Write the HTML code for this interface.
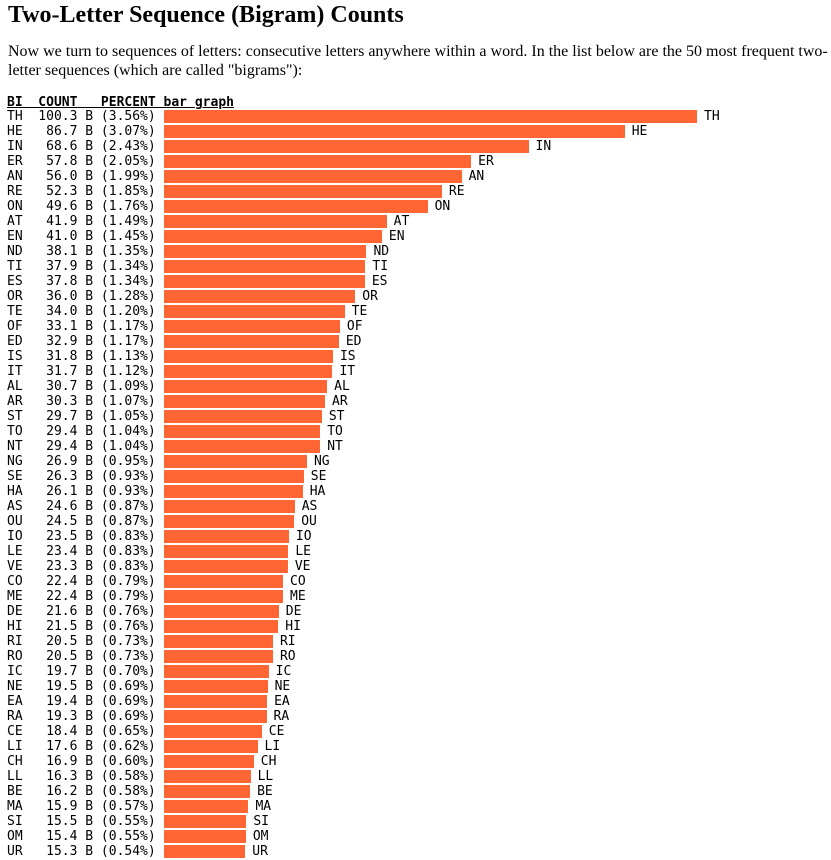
<!DOCTYPE html>
<html><head><meta charset="utf-8"><style>
body{margin:0;width:831px;height:860px;overflow:hidden;background:#fff;position:relative;font-family:"Liberation Serif",serif;color:#000}
h1{position:absolute;left:8px;top:2px;margin:0;font-size:24px;font-weight:bold;white-space:nowrap}
p{position:absolute;left:8px;top:42px;margin:0;width:820px;font-size:16px;line-height:19px}
.mono{font-family:"DejaVu Sans Mono","Liberation Mono",monospace;font-size:13px;white-space:pre;position:absolute;line-height:15px}
.bar{position:absolute;height:13px;background:#ff6633}
</style></head><body>
<h1>Two-Letter Sequence (Bigram) Counts</h1>
<p>Now we turn to sequences of letters: consecutive letters anywhere within a word. In the list below are the 50 most frequent two-letter sequences (which are called "bigrams"):</p>
<div class="mono" style="left:7px;top:95px;font-weight:bold;text-decoration:underline">BI  COUNT   PERCENT bar graph</div>
<div id="chart"></div>
<script>
const bigrams=["TH","HE","IN","ER","AN","RE","ON","AT","EN","ND","TI","ES","OR","TE","OF","ED","IS","IT","AL","AR","ST","TO","NT","NG","SE","HA","AS","OU","IO","LE","VE","CO","ME","DE","HI","RI","RO","IC","NE","EA","RA","CE","LI","CH","LL","BE","MA","SI","OM","UR"];
const counts=[100.3,86.7,68.6,57.8,56.0,52.3,49.6,41.9,41.0,38.1,37.9,37.8,36.0,34.0,33.1,32.9,31.8,31.7,30.7,30.3,29.7,29.4,29.4,26.9,26.3,26.1,24.6,24.5,23.5,23.4,23.3,22.4,22.4,21.6,21.5,20.5,20.5,19.7,19.5,19.4,19.3,18.4,17.6,16.9,16.3,16.2,15.9,15.5,15.4,15.3];
const percents=[3.56,3.07,2.43,2.05,1.99,1.85,1.76,1.49,1.45,1.35,1.34,1.34,1.28,1.20,1.17,1.17,1.13,1.12,1.09,1.07,1.05,1.04,1.04,0.95,0.93,0.93,0.87,0.87,0.83,0.83,0.83,0.79,0.79,0.76,0.76,0.73,0.73,0.70,0.69,0.69,0.69,0.65,0.62,0.60,0.58,0.58,0.57,0.55,0.55,0.54];
const x0=164, scale=533/100.3, y0=110, rowH=15;
const xs=v=>v*scale;
const chart=document.getElementById('chart');
bigrams.forEach((b,i)=>{
  const y=y0+i*rowH;
  const t=document.createElement('div');
  t.className='mono';
  
  
  t.style.left='7px';t.style.top=(y-1)+'px';
  t.textContent=b+' '+counts[i].toFixed(1).padStart(6,' ')+' B ('+percents[i].toFixed(2)+'%)';
  chart.appendChild(t);
  const bar=document.createElement('div');
  bar.className='bar';
  
  
  const w=xs(counts[i]);
  bar.style.left=x0+'px';bar.style.top=y+'px';bar.style.width=w+'px';
  chart.appendChild(bar);
  const l=document.createElement('div');
  l.className='mono';
  
  
  l.style.left=(x0+w+7)+'px';l.style.top=(y-1)+'px';
  l.textContent=b;
  chart.appendChild(l);
});
</script>
</body></html>
